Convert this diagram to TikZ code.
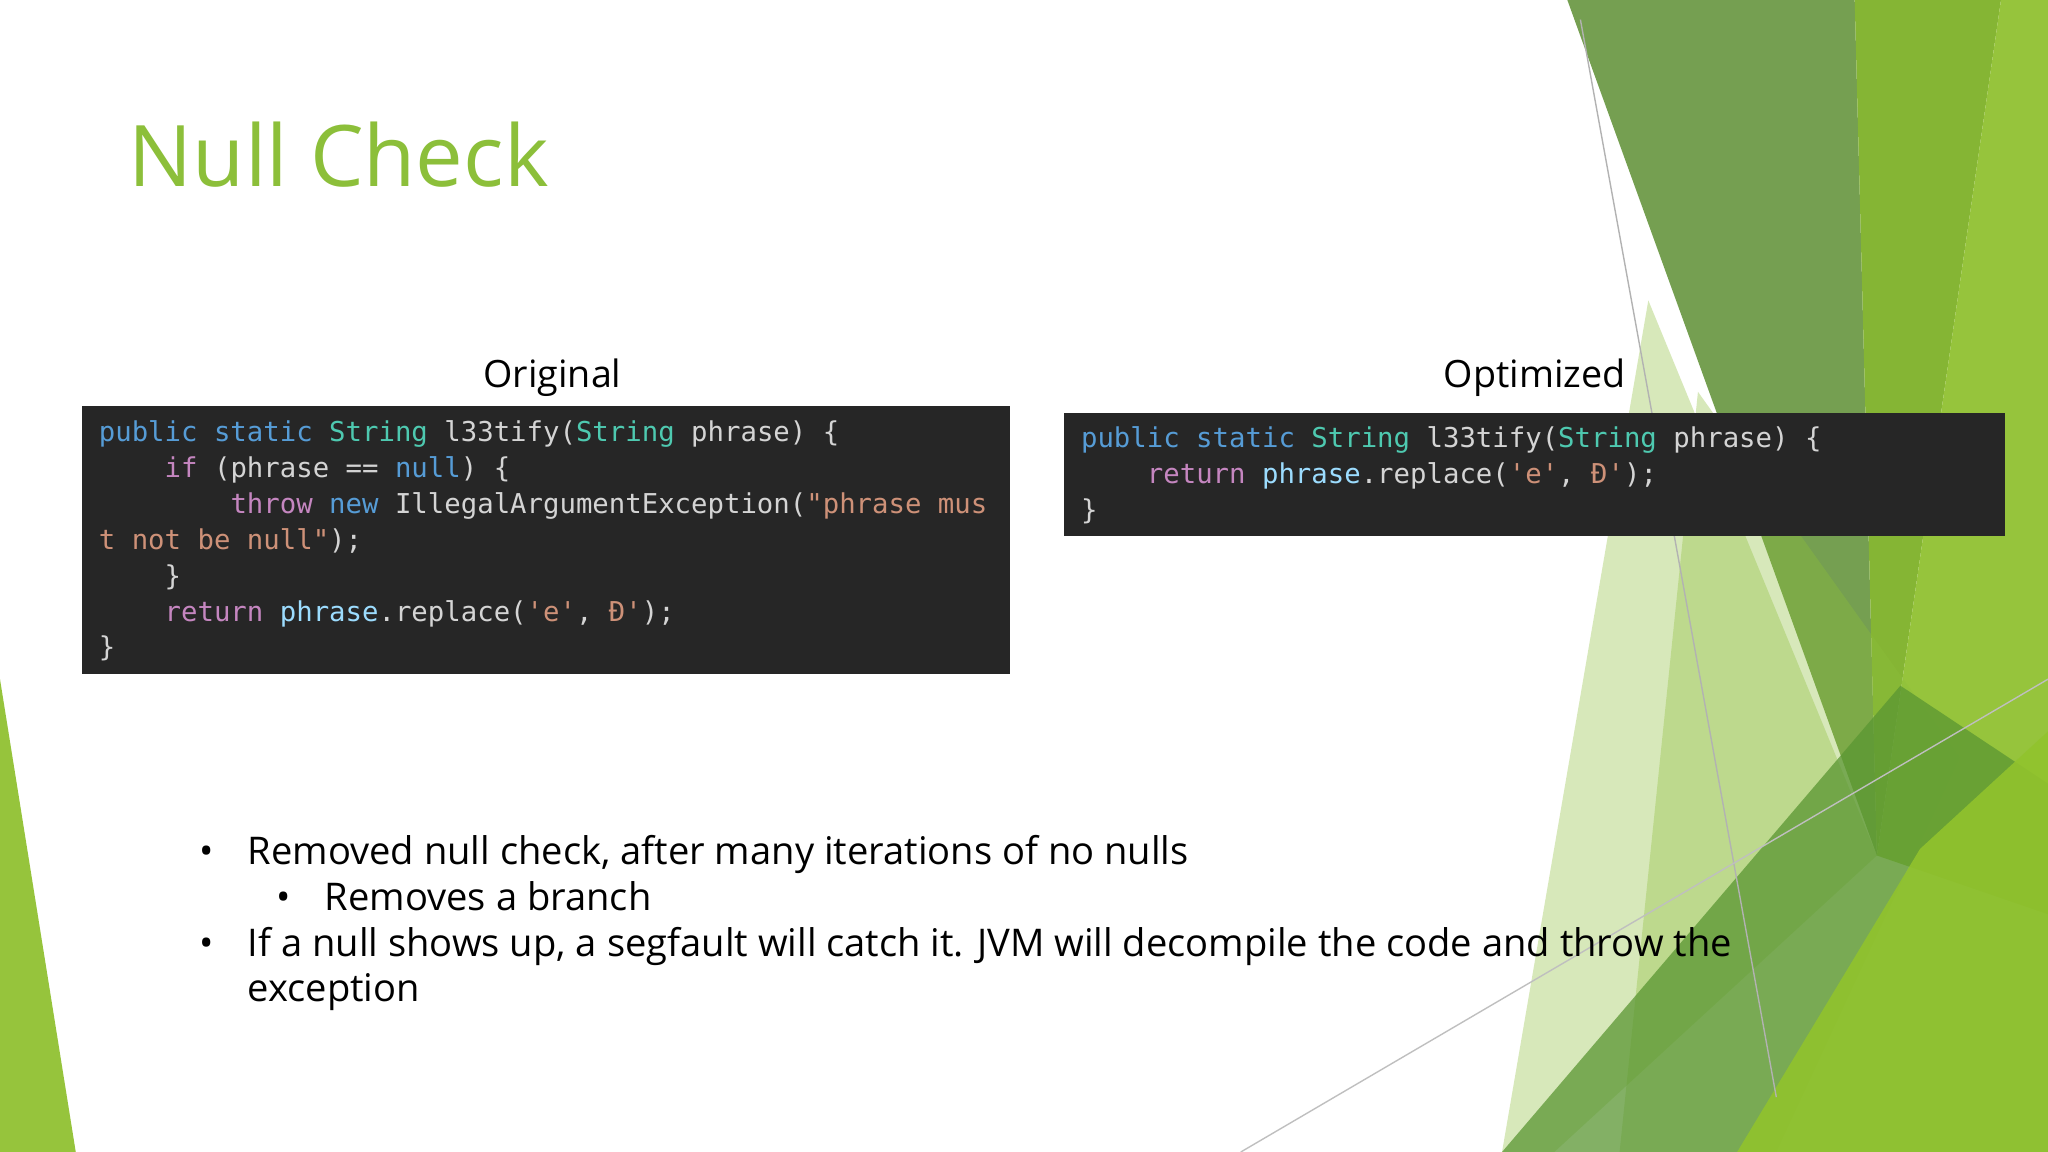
\documentclass[tikz,border=0pt]{standalone}
\usepackage{fontspec}
\setmainfont{Open Sans}
\newfontfamily\cf{DejaVu Sans Mono}
\definecolor{bg}{HTML}{262626}
\definecolor{kw}{HTML}{569CD6}
\definecolor{ty}{HTML}{4EC9B0}
\definecolor{tx}{HTML}{D4D4D4}
\definecolor{st}{HTML}{CE9178}
\definecolor{ct}{HTML}{C586C0}
\definecolor{vr}{HTML}{9CDCFE}
\definecolor{ttl}{HTML}{8CBF3A}
\newcommand\Kw[1]{\textcolor{kw}{#1}}
\newcommand\Ty[1]{\textcolor{ty}{#1}}
\newcommand\St[1]{\textcolor{st}{#1}}
\newcommand\Ct[1]{\textcolor{ct}{#1}}
\newcommand\Vr[1]{\textcolor{vr}{#1}}
\newcommand\Ind[1]{\hspace*{#1\fontcharwd\font`0}}
\newcommand\Sq{\char39}
\newcommand\Dq{\char34}
\begin{document}
\begin{tikzpicture}[x=0.01cm,y=-0.01cm,
  codebox/.style={fill=bg,draw=none},
  codeln/.style={anchor=base west,inner sep=0pt,text=tx,font=\cf\fontsize{5.95}{7}\selectfont},
  lbl/.style={anchor=base,inner sep=0pt,font=\fontsize{8.2}{10}\selectfont},
  bul/.style={anchor=base west,inner sep=0pt,font=\fontsize{8.3}{10}\selectfont}]
\useasboundingbox (0,0) rectangle (1568,882);
\fill[white] (0,0) rectangle (1568,882);
% decorative facets
\fill[fill={rgb,255:red,110;green,154;blue,72},opacity=0.95] (1200,0) -- (1420,0) -- (1437,655) -- cycle;
\fill[fill={rgb,255:red,133;green,181;blue,52}] (1405,0) -- (1532,0) -- (1437,655) -- (1420,0) -- cycle;
\fill[fill={rgb,255:red,150;green,196;blue,60}] (1532,0) -- (1568,0) -- (1568,700) -- (1437,655) -- cycle;
\fill[fill={rgb,255:red,141;green,191;blue,58},opacity=0.35] (1262,230) -- (1437,655) -- (1190,882) -- (1150,882) -- cycle;
\fill[fill={rgb,255:red,141;green,191;blue,58},opacity=0.35] (1300,300) -- (1500,580) -- (1360,882) -- (1240,882) -- cycle;
\fill[fill={rgb,255:red,90;green,150;blue,50},opacity=0.75] (1150,882) -- (1455,525) -- (1568,600) -- (1568,882) -- cycle;
\fill[fill={rgb,255:red,145;green,195;blue,45},opacity=0.9] (1330,882) -- (1470,650) -- (1568,560) -- (1568,882) -- cycle;
\fill[fill={rgb,255:red,150;green,196;blue,60}] (0,520) -- (58,882) -- (0,882) -- cycle;
\draw[gray!60,line width=0.3pt] (1210,15) -- (1360,840);
\draw[gray!50,line width=0.3pt] (950,882) -- (1568,520);
% title
\node[anchor=base west,inner sep=0pt,text=ttl,font=\fontsize{18.5}{22}\selectfont] (title) at (98,143) {Null Check};
% labels
\node[lbl] (lo) at (423,297) {Original};
\node[lbl] (lp) at (1175,297) {Optimized};
% left code
\fill[codebox] (63,311) rectangle (773,516);
\node[codeln] (l1) at (75,338) {\Kw{public static} \Ty{String} l33tify(\Ty{String} phrase) \{};
\node[codeln] (l2) at (75,365.5) {\Ind{4}\Ct{if} (phrase == \Kw{null}) \{};
\node[codeln] (l3) at (75,393) {\Ind{8}\Ct{throw} \Kw{new} IllegalArgumentException(\St{\Dq phrase mus}};
\node[codeln] (l4) at (75,420.5) {\St{t not be null\Dq});};
\node[codeln] (l5) at (75,448) {\Ind{4}\}};
\node[codeln] (l6) at (75,475.5) {\Ind{4}\Ct{return} \Vr{phrase}.replace(\St{\Sq e\Sq}, \St{\Sq 3\Sq});};
\node[codeln] (l7) at (75,503) {\}};
% right code
\fill[codebox] (815,316) rectangle (1535,410);
\node[codeln] (r1) at (827,343) {\Kw{public static} \Ty{String} l33tify(\Ty{String} phrase) \{};
\node[codeln] (r2) at (827,370.5) {\Ind{4}\Ct{return} \Vr{phrase}.replace(\St{\Sq e\Sq}, \St{\Sq 3\Sq});};
\node[codeln] (r3) at (827,398) {\}};
% bullets
\node[bul] (b1) at (152,662) {•};
\node[bul] (t1) at (189,662) {Removed null check, after many iterations of no nulls};
\node[bul] (b2) at (211,697) {•};
\node[bul] (t2) at (248,697) {Removes a branch};
\node[bul] (b3) at (152,732) {•};
\node[bul] (t3) at (189,732) {If a null shows up, a segfault will catch it. JVM will decompile the code and throw the};
\node[bul] (t4) at (189,767) {exception};
\end{tikzpicture}
\end{document}
